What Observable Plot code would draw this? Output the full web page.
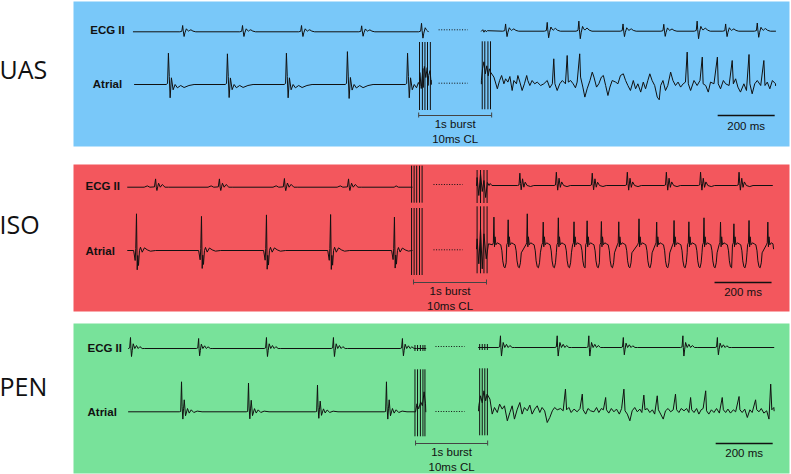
<!DOCTYPE html>
<html><head><meta charset="utf-8">
<script src="https://cdn.jsdelivr.net/npm/d3@7"></script>
<script src="https://cdn.jsdelivr.net/npm/@observablehq/plot@0.6"></script>
<style>
body{margin:0;background:#fff;}
#chart{position:relative;width:791px;height:474px;overflow:hidden;background:#fff;}
#chart svg{position:absolute;left:0;}
</style></head><body><div id="chart"></div>
<script>
// ---------------- DATA (times in ms, amplitudes in a.u.) ----------------
const conditions = ["UAS", "ISO", "PEN"];
const panelColors = ["#79c8f9", "#f3575d", "#78e29a"];
const leads = ["ECG II", "Atrial"];
const burstLabel = ["1s burst", "10ms CL"];
const scaleBarMs = 200;
const scaleBarLabel = "200 ms";

// beat templates: offsets (ms) from the beat, amplitude
const tplUasEcg = {dt: [-10,-3,0,2,5,8,13,17,21,25,29,36,46], a: [0,0.5,6.3,1,-4.7,-1,3,1.5,0.7,1.5,2,0.7,0]};
const tplUasAtr = {dt: [-8,-3,0,3,6,10.5,16.5,23.5,31.5,43,55,72,90], a: [0,1,31.3,8,-13.3,6.7,-5.3,0,-3.3,-1,-3,-1,0]};
const tplIsoEcgPre = {dt: [-40,-29,-20,-4,0,2.5,4.7,8,10.5,16.5,23.5,33,45], a: [0,1.3,0,0.3,8.3,0,-3.3,1,4,0,2.7,0,0]};
const tplIsoEcgPost = {dt: [-8,-3,0,2.5,4.7,9.5,14,18.7,25.6,37.5,49], a: [0,0.5,12.3,2,-4.3,6.7,-1.7,3.3,0,-1,0]};
const tplIsoAtr = {dt: [-10,-4.7,-2.5,0,2.5,4.5,7,10.5,14,20,28,37.5,49,67], a: [0,-10,2,36.7,-19.3,-5,-15,0,3.3,-1.7,2.7,0.7,-0.7,0]};
const tplIsoFlutter = {dt: [-5,-2,2,4,7,12,18,24,28,31,35,39,43,46], a: [4,6,2,12,4,6,5,4,-2,-12,-18,-19,-14,-4]};
const tplPenEcg = {dt: [-8,-3,0,1.5,3.5,6,9.5,15,21,27,33,41,50], a: [0,0.5,10,0,-7.3,-2,4.3,0,2.7,0,1.7,0,0]};
const tplPenAtr = {dt: [-8,-3,0,2,4.7,7,9.5,14,21,27,34,43,55,72], a: [0,0.3,30,5,-7.3,3,12,-4,3.3,-1.3,2,-0.7,0.7,0]};

// UAS
const uasEcgPreSpan = [10, 1045];
const uasEcgPreBeats = [183, 393, 600, 811, 1021];
const uasEcgPreGain = [1, 1, 1, 0.95, 1.35];
const uasAtrPreSpan = [14, 1055];
const uasAtrPreBeats = [133, 340, 547, 761, 972];
const uasAtrPreGain = [1, 0.98, 1, 1.05, 1];
const uasAtrBurstPre = [[1010,2],[1015,12],[1020,-4],[1026,16],[1031,18],[1036,7],[1041,17],[1046,9],[1051,14],[1055,4]];
const uasBurstPre = [1014, 1024, 1033, 1042, 1052];
const uasBurstPost = [1234, 1243, 1254, 1263];
const uasArtifactAtr = [42, -26];
const uasEcgPostSpan = [1231, 2263];
const uasEcgPostBeats = [1316, 1462, 1573, 1728, 1871, 1988, 2088, 2199];
const uasEcgPostGain = [1.15, 1.4, 1.6, 1.15, 1.1, 1.6, 1.15, 1.3];
const uasEcgPostStart = [[1236,1.5],[1240,-1],[1244,1],[1248,-0.5],[1252,0.5]];
const uasAtrPostSpan = [1231, 2263];
const uasAtrPost = [[1231,3],[1235,15],[1240,22],[1245,10],[1250,18],[1255,8],[1259,15],
 [1263,11.7],[1275,6.7],[1287,-5],[1295,3.3],[1302,8.3],[1310,0],[1316,5],[1324,1.7],[1331,7.3],[1339,-6.7],
 [1345,3.3],[1354,0],[1359,8.3],[1366,1.7],[1374,-6.7],[1382,0],[1390,8.3],[1394,3.3],[1401,-1.7],[1409,3.3],
 [1418,0],[1427,1.7],[1439,-1.7],[1450,0],[1462,3.3],[1471,-4],[1480,0],[1485,25],[1489,0],[1497,-6.7],
 [1506,0],[1515,3.3],[1526,0],[1532,28.3],[1536,1.7],[1544,3.3],[1553,0],[1561,-4],[1567,1.7],[1576,30],
 [1579,6.7],[1587,-3.3],[1594,-13.3],[1602,-5],[1612,3.3],[1620,11.7],[1626,6.7],[1635,-3.3],[1643,0],
 [1652,6.7],[1659,8.3],[1667,-1.7],[1675,-11.7],[1682,-3.3],[1690,3.3],[1702,1.7],[1710,0],[1719,8.3],
 [1729,10],[1737,3.3],[1745,-1.7],[1754,-6.7],[1764,3.3],[1772,-5],[1780,0],[1790,-8.3],[1799,1.7],
 [1807,-5],[1815,3.3],[1822,10],[1830,3.3],[1839,-1.7],[1848,-13.3],[1855,-16],[1860,-1.7],[1868,3.3],
 [1877,-6.7],[1885,-1.7],[1895,11.7],[1903,3.3],[1912,-1.7],[1921,1.7],[1930,-3.3],[1939,0],[1947,1.7],
 [1953,31.7],[1957,0],[1965,-6.7],[1977,3.3],[1988,-1.7],[1998,3.3],[2006,26.7],[2009,0],[2018,-1.7],
 [2027,-8.3],[2035,1.7],[2047,0],[2059,26.7],[2062,0],[2070,-5],[2080,3.3],[2088,0],[2100,-1.7],
 [2111,23.3],[2115,0],[2123,5],[2131,-3.3],[2140,-8.3],[2152,0],[2161,-6.7],[2170,29.3],[2173,0],
 [2181,-10],[2190,0],[2199,3.3],[2211,-1.7],[2222,23.3],[2226,-1.7],[2234,1.7],[2243,-5],[2252,3.3],[2263,-1.7]];

// ISO
const isoEcgPreSpan = [-10, 988];
const isoEcgPreBeats = [88, 312, 540, 765];
const isoEcgPreGain = [1, 1, 1.05, 1];
const isoEcgPreExtra = [[925,0],[932,1.3],[940,0]];
const isoAtrPreSpan = [-10, 988];
const isoAtrPreBeats = [21, 249, 477, 702, 926];
const isoAtrPreGain = [1, 0.93, 0.97, 0.98, 0.91];
const isoBurstPre = [986, 995, 1004, 1014, 1023];
const isoBurstPost = [1216, 1228, 1240, 1251];
const isoArtifactEcgPre = [21, -16];
const isoArtifactEcgPost = [15, -18];
const isoArtifactAtr = [42, -25];
const isoEcgPostSpan = [1214, 2252];
const isoEcgPostBeats = [1366, 1494, 1620, 1743, 1880, 2000, 2135];
const isoEcgPostGain = [1, 1.08, 1, 1.08, 1.08, 1.08, 1.08];
const isoEcgPostStart = [[1216,8],[1222,-10],[1228,12],[1234,-6],[1240,5],[1246,-12],[1252,3],[1258,0],[1262,2],[1268,0]];
const isoAtrPostSpan = [1214, 2256];
const isoAtrPostSpikes = [1275,1325,1392,1448,1501,1556,1602,1652,1713,1784,1846,1907,1959,2012,2070,2117,2170,2236];
const isoAtrPostHeights = [31.7,29,35,26.7,31,27,28,27.3,27,30,26.7,28.3,27,31,26.7,25,28.3,26.7];
const isoAtrPostStart = [[1216,10],[1222,-15],[1228,20],[1234,-20],[1240,15],[1248,-10],[1256,5]];

// PEN
const penEcgPreSpan = [-7, 1036];
const penEcgPreBeats = [0, 239, 477, 712, 954];
const penEcgPreGain = [1.1, 1, 1.1, 1.1, 1];
const penAtrPreSpan = [-7, 1036];
const penAtrPreBeats = [179, 414, 656, 898];
const penAtrPreGain = [1, 0.96, 0.89, 1];
const penAtrBurstPre = [[1000,0],[1005,8],[1011,3],[1018,10],[1024,6],[1030,20],[1035,8]];
const penBurstPre = [998, 1007, 1017, 1026, 1033];
const penBurstPost = [1225, 1234, 1243, 1252];
const penArtifactEcg = [3, -3];
const penArtifactAtr = [42, -25];
const penEcgPostSpan = [1221, 2257];
const penEcgPostBeats = [1298, 1497, 1608, 1729, 1938, 2059];
const penEcgPostGain = [1.17, 1.17, 1.17, 1, 1.17, 1];
const penAtrPostSpan = [1221, 2258];
const penAtrPost = [[1222,5],[1228,15],[1234,8],[1240,20],[1246,10],
 [1251,16.7],[1261,11.7],[1269,-3.3],[1277,3.3],[1287,-1.7],[1295,6.7],[1304,1.7],[1312,5],[1322,-10],
 [1331,-1.7],[1339,5],[1347,-8.3],[1357,1.7],[1366,8.3],[1374,-3.3],[1382,3.3],[1392,0],[1401,5.7],
 [1409,-3.3],[1418,1.7],[1427,5],[1436,-1.7],[1444,3.3],[1453,0],[1462,-11.7],[1471,-6.7],[1480,0],
 [1488,3.3],[1497,1],[1509,2.3],[1518,0],[1526,21.7],[1530,1],[1538,3.3],[1546,-1.7],[1556,1.7],
 [1567,-1],[1577,2.3],[1585,16.7],[1588,1],[1597,-3.3],[1605,2.3],[1614,0],[1626,-1],[1635,3.3],
 [1643,-1.7],[1652,2.3],[1659,1],[1667,13.3],[1670,1],[1678,-2.3],[1687,2.3],[1696,-1],[1705,1.7],
 [1715,-3.3],[1723,2.3],[1731,21.7],[1735,0],[1743,-3.3],[1752,-10],[1760,0],[1769,3.3],[1778,-1],
 [1787,1.7],[1794,-1.7],[1801,15.7],[1805,1],[1813,2.3],[1822,-1.7],[1831,1],[1839,-3.3],[1848,15],
 [1852,1],[1860,-3.3],[1869,-8.3],[1877,0],[1886,2.3],[1895,-1],[1904,1],[1912,16.7],[1916,1],
 [1924,-1.7],[1932,2.3],[1942,0],[1951,2.3],[1959,-1.7],[1965,13.3],[1969,1],[1977,-1.7],[1986,2.3],
 [1994,-3.3],[2002,1],[2009,2.3],[2018,20],[2021,0],[2029,-3.3],[2038,1],[2047,-1.7],[2056,2.3],
 [2066,-2.3],[2076,13.3],[2080,1],[2088,-1.7],[2096,1.7],[2105,-2.3],[2115,1],[2123,-1],[2135,14.3],
 [2138,1],[2146,-1.7],[2155,1.7],[2164,-6.7],[2173,1],[2181,-1.7],[2193,11],[2197,1],[2205,-1],
 [2213,2.3],[2222,-2.3],[2232,0],[2240,-8.3],[2246,26.7],[2250,1],[2257,3.3]];

// ---------------- LAYOUT (pixels) ----------------
const X_DOMAIN = [-200, 2312];
const layout = {
  UAS: {top: 1, h: 145, ecgPre: 30.3, ecgPost: 29.7, atrPre: 83, atrPost: 82.3, dotsEcg: 28.3, dotsAtr: 81.7,
        labelAnchor: "middle", labelDx: 34, ecgLabelY: 32.5, atrLabelY: 86.5, nameY: 77, barY: 114,
        textY2: 141.5, scaleTextY: 128.3, bracket: [1011, 1267], dots: [1081, 1183], scaleStart: 2060},
  ISO: {top: 164, h: 147, ecgPre: 22.7, ecgPost: 21, atrPre: 86, atrPost: 84.3, dotsEcg: 20, dotsAtr: 85.3,
        labelAnchor: "start", labelDx: 12, ecgLabelY: 25.5, atrLabelY: 90, nameY: 69, barY: 118,
        textY2: 145, scaleTextY: 131, bracket: [993, 1249], dots: [1063, 1165], scaleStart: 2049},
  PEN: {top: 323, h: 150, ecgPre: 25, ecgPost: 24, atrPre: 88.3, atrPost: 87.3, dotsEcg: 23, dotsAtr: 88,
        labelAnchor: "start", labelDx: 14, ecgLabelY: 28.3, atrLabelY: 92.3, nameY: 72, barY: 120,
        textY2: 147, scaleTextY: 133, bracket: [1000, 1253], dots: [1070, 1172], scaleStart: 2053}
};

// ---------------- BUILD ----------------
function trace(span, beats, gains, tpl, extras = []) {
  const pts = [[span[0], 0], [span[1], 0]];
  beats.forEach((b, i) => tpl.dt.forEach((d, j) => pts.push([b + d, tpl.a[j] * gains[i]])));
  extras.forEach(p => pts.push(p));
  return pts.filter(([t]) => t >= span[0] && t <= span[1]).sort((p, q) => p[0] - q[0]);
}
function flutter(span, spikes, heights, tpl, extras = []) {
  const pts = [[span[0], 0], [span[1], 0]];
  spikes.forEach((s, i) => {
    pts.push([s, heights[i]]);
    const next = i + 1 < spikes.length ? spikes[i + 1] - 5 : Infinity;
    tpl.dt.forEach((d, j) => { if (s + d < next || d < 0) pts.push([s + d, tpl.a[j]]); });
  });
  extras.forEach(p => pts.push(p));
  return pts.filter(([t]) => t >= span[0] && t <= span[1]).sort((p, q) => p[0] - q[0]);
}
const noTpl = {dt: [], a: []};

const panels = {
  UAS: {
    traces: [
      {base: "ecgPre", pts: trace(uasEcgPreSpan, uasEcgPreBeats, uasEcgPreGain, tplUasEcg)},
      {base: "atrPre", pts: trace(uasAtrPreSpan, uasAtrPreBeats, uasAtrPreGain, tplUasAtr, uasAtrBurstPre)},
      {base: "ecgPost", pts: trace(uasEcgPostSpan, uasEcgPostBeats, uasEcgPostGain, tplUasEcg, uasEcgPostStart)},
      {base: "atrPost", pts: trace(uasAtrPostSpan, [], [], noTpl, uasAtrPost)}
    ],
    bursts: [
      {base: "atrPre", times: uasBurstPre, amp: uasArtifactAtr},
      {base: "atrPost", times: uasBurstPost, amp: uasArtifactAtr}
    ]
  },
  ISO: {
    traces: [
      {base: "ecgPre", pts: trace(isoEcgPreSpan, isoEcgPreBeats, isoEcgPreGain, tplIsoEcgPre, isoEcgPreExtra)},
      {base: "atrPre", pts: trace(isoAtrPreSpan, isoAtrPreBeats, isoAtrPreGain, tplIsoAtr)},
      {base: "ecgPost", pts: trace(isoEcgPostSpan, isoEcgPostBeats, isoEcgPostGain, tplIsoEcgPost, isoEcgPostStart)},
      {base: "atrPost", pts: flutter(isoAtrPostSpan, isoAtrPostSpikes, isoAtrPostHeights, tplIsoFlutter, isoAtrPostStart)}
    ],
    bursts: [
      {base: "ecgPre", times: isoBurstPre, amp: isoArtifactEcgPre},
      {base: "atrPre", times: isoBurstPre, amp: isoArtifactAtr},
      {base: "ecgPost", times: isoBurstPost, amp: isoArtifactEcgPost},
      {base: "atrPost", times: isoBurstPost, amp: isoArtifactAtr}
    ]
  },
  PEN: {
    traces: [
      {base: "ecgPre", pts: trace(penEcgPreSpan, penEcgPreBeats, penEcgPreGain, tplPenEcg)},
      {base: "atrPre", pts: trace(penAtrPreSpan, penAtrPreBeats, penAtrPreGain, tplPenAtr, penAtrBurstPre)},
      {base: "ecgPost", pts: trace(penEcgPostSpan, penEcgPostBeats, penEcgPostGain, tplPenEcg)},
      {base: "atrPost", pts: trace(penAtrPostSpan, [], [], noTpl, penAtrPost)}
    ],
    bursts: [
      {base: "ecgPre", times: penBurstPre, amp: penArtifactEcg},
      {base: "atrPre", times: penBurstPre, amp: penArtifactAtr},
      {base: "ecgPost", times: penBurstPost, amp: penArtifactEcg},
      {base: "atrPost", times: penBurstPost, amp: penArtifactAtr}
    ]
  }
};

const SANS = "'Liberation Sans', Arial, sans-serif";
const chart = document.getElementById("chart");

conditions.forEach((name, ci) => {
  const L = layout[name], P = panels[name];
  const rows = [];
  P.traces.forEach((tr, k) => tr.pts.forEach(([t, a]) => rows.push({t, y: a - L[tr.base], seg: k})));
  const rules = [];
  P.bursts.forEach(b => b.times.forEach(t => rules.push({t, y1: b.amp[1] - L[b.base], y2: b.amp[0] - L[b.base]})));
  const dots = [{y: -L.dotsEcg}, {y: -L.dotsAtr}];
  const [b0, b1] = L.bracket;
  const bc = (b0 + b1) / 2;
  const sc = L.scaleStart + scaleBarMs / 2;

  const svg = Plot.plot({
    width: 791, height: L.h,
    marginLeft: 73, marginRight: 2, marginTop: 0, marginBottom: 0,
    x: {domain: X_DOMAIN, axis: null},
    y: {domain: [-L.h, 0], axis: null},
    style: {background: "transparent", overflow: "visible"},
    marks: [
      Plot.frame({fill: panelColors[ci], stroke: null}),
      Plot.line(rows, {x: "t", y: "y", z: "seg", stroke: "#111", strokeWidth: 1, curve: "linear"}),
      Plot.ruleX(rules, {x: "t", y1: "y1", y2: "y2", stroke: "#111", strokeWidth: 1}),
      Plot.link(dots, {x1: () => L.dots[0], x2: () => L.dots[1], y1: "y", y2: "y", stroke: "#111", strokeWidth: 1, strokeDasharray: "1,1.6"}),
      // burst bracket
      Plot.link([0], {x1: () => b0, x2: () => b1, y1: () => -L.barY, y2: () => -L.barY, stroke: "#444", strokeWidth: 1}),
      Plot.ruleX([b0, b1], {x: d => d, y1: () => -L.barY - 2.5, y2: () => -L.barY + 2.5, stroke: "#444", strokeWidth: 1}),
      Plot.text([burstLabel.join("\n")], {x: () => bc, y: () => -L.textY2, text: d => d, lineAnchor: "bottom", lineHeight: 1.3,
        textAnchor: "middle", fontSize: 11.5, fontFamily: SANS, fill: "#111"}),
      // scale bar
      Plot.link([0], {x1: () => L.scaleStart, x2: () => L.scaleStart + scaleBarMs, y1: () => -L.barY, y2: () => -L.barY, stroke: "#111", strokeWidth: 1.5}),
      Plot.text([scaleBarLabel], {x: () => sc, y: () => -L.scaleTextY, text: d => d, lineAnchor: "bottom",
        textAnchor: "middle", fontSize: 11.5, fontFamily: SANS, fill: "#111"}),
      // lead labels
      Plot.text([{label: leads[0], y: -L.ecgLabelY}, {label: leads[1], y: -L.atrLabelY}], {
        frameAnchor: "left", dx: L.labelDx, y: "y", text: "label", lineAnchor: "bottom", textAnchor: L.labelAnchor,
        fontSize: 11.5, fontWeight: "bold", fontFamily: SANS, fill: "#111"}),
      // condition name
      Plot.text([name], {frameAnchor: "left", dx: -74, y: () => -L.nameY, text: d => d, lineAnchor: "bottom",
        textAnchor: "start", fontSize: 25, fontFamily: "'Open Sans', sans-serif", fill: "#111"})
    ]
  });
  svg.style.top = L.top + "px";
  chart.appendChild(svg);
});
</script></body></html>
